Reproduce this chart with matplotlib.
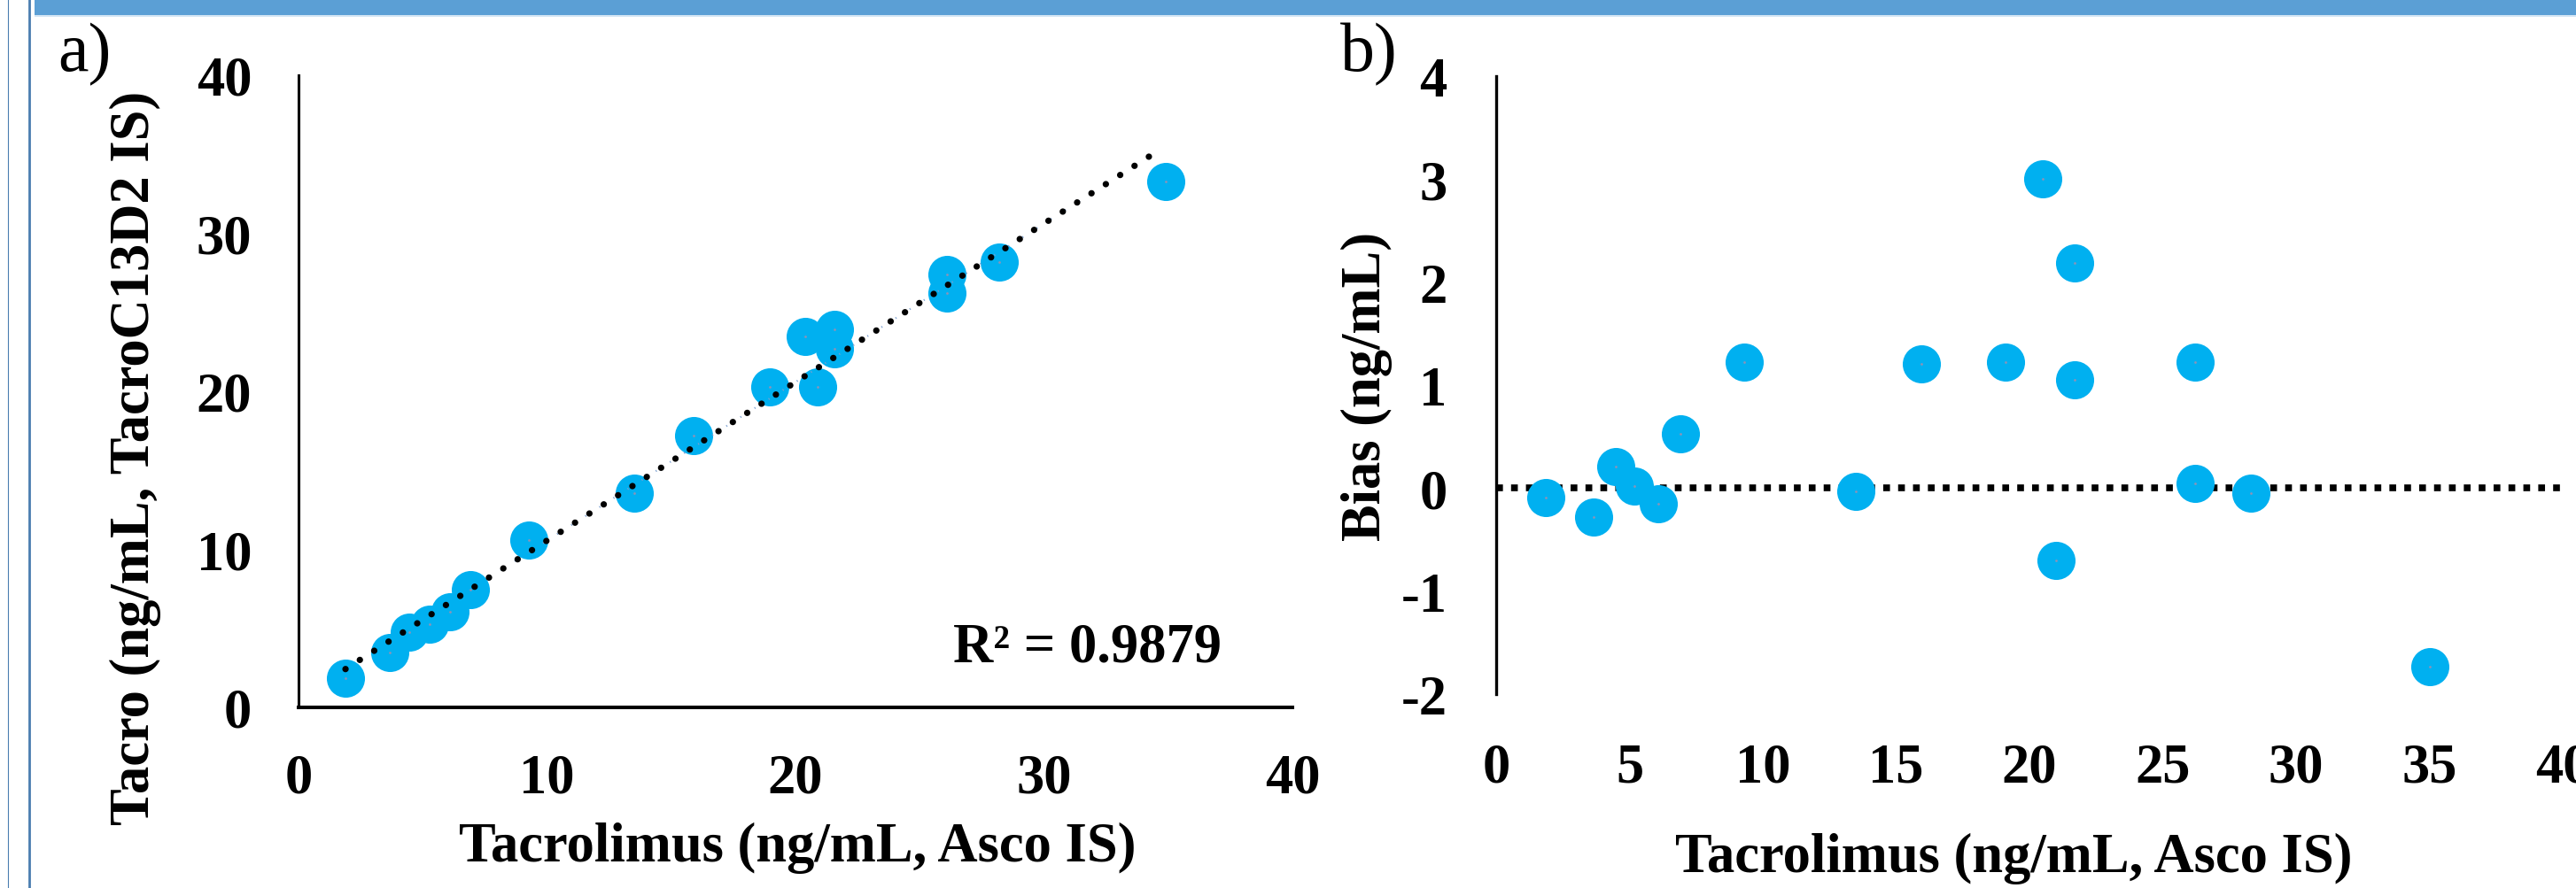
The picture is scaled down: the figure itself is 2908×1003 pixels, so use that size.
import matplotlib
matplotlib.use("Agg")
import matplotlib.pyplot as plt
from matplotlib.lines import Line2D
from matplotlib.patches import Rectangle
import numpy as np

W, H = 2908, 1004
DPI = 100

# Tacrolimus, Asco IS (x) vs TacroC13D2 IS (y), panel a
tacro_asco = [1.89, 3.67, 4.45, 5.27, 6.08, 6.90, 9.27, 13.5, 15.9, 18.97,
              20.4, 20.9, 21.57, 21.57, 26.1, 26.1, 28.2, 34.9]
tacro_c13d2 = [1.85, 3.47, 4.76, 5.27, 6.05, 7.45, 10.59, 13.56, 17.2, 20.28,
               23.5, 20.28, 23.9, 22.7, 27.4, 26.2, 28.2, 33.3]

# Bias plot, panel b
bias_x = [1.86, 3.65, 4.48, 5.18, 6.08, 6.90, 9.3, 13.5, 15.95, 19.1,
          20.5, 21.0, 21.7, 21.7, 26.2, 26.2, 28.3, 35.0]
bias = [-0.095, -0.28, 0.21, 0.02, -0.15, 0.53, 1.22, -0.03, 1.21, 1.22,
        3.0, -0.70, 2.19, 1.05, 1.22, 0.05, -0.05, -1.73]

a_xticks = [0, 10, 20, 30, 40]
a_yticks = [0, 10, 20, 30, 40]
b_xticks = [0, 5, 10, 15, 20, 25, 30, 35, 40]
b_yticks = [-2, -1, 0, 1, 2, 3, 4]

r2_text = "R\u00b2 = 0.9879"
xlabel = "Tacrolimus (ng/mL, Asco IS)"
ylabel_a = "Tacro (ng/mL, TacroC13D2 IS)"
ylabel_b = "Bias (ng/mL)"

MARKER = "#00B0F0"
FS = 45

plt.rcParams.update({
    "font.family": "Liberation Serif",
    "font.weight": "bold",
    "axes.unicode_minus": False,
})


def fx(x):
    return x / W


def fy(y):
    return 1 - y / H


def axes_box(left, top, right, bottom):
    return [fx(left), fy(bottom), (right - left) / W, (bottom - top) / H]


fig = plt.figure(figsize=(W / DPI, H / DPI), dpi=DPI)
fig.patch.set_facecolor("white")

# decorative frame: top banner and left rules
fig.patches.append(Rectangle((fx(39), fy(18)), 1 - fx(39), 18 / H,
                             transform=fig.transFigure, facecolor="#5B9FD5",
                             edgecolor="none"))
fig.patches.append(Rectangle((fx(39), fy(20)), 1 - fx(39), 2 / H,
                             transform=fig.transFigure, facecolor="#D3E5F4",
                             edgecolor="none"))
fig.lines.append(Line2D([fx(8.5), fx(8.5)], [0, 1], transform=fig.transFigure,
                        color="#4A7DB0", linewidth=0.8))
fig.lines.append(Line2D([fx(33), fx(33)], [0, 1], transform=fig.transFigure,
                        color="#4A7DB0", linewidth=2.0))

# ---------------- panel a ----------------
ax_a = fig.add_axes(axes_box(337, 86, 1459, 800))
ax_a.scatter(tacro_asco, tacro_c13d2, s=31 ** 2, color=MARKER,
             linewidths=0, zorder=3, clip_on=False)
ax_a.scatter(tacro_asco, tacro_c13d2, s=4, color="#8A93B8",
             linewidths=0, zorder=4, clip_on=False)

slope, intercept = np.polyfit(tacro_asco, tacro_c13d2, 1)
xfit = np.array([min(tacro_asco), max(tacro_asco) - 0.3])
yfit = slope * xfit + intercept
ax_a.plot(xfit, yfit, color="#7B9FD0", linewidth=1.6,
          linestyle=(0, (0.5, 8)), zorder=5, clip_on=False)
ax_a.plot(xfit, yfit, color="black", linewidth=5.2,
          linestyle=(0, (0.01, 2.65)), dash_capstyle="round",
          zorder=6, clip_on=False)

ax_a.set_xlim(0, 40)
ax_a.set_ylim(0, 40)
ax_a.set_xticks(a_xticks)
ax_a.set_yticks(a_yticks)
ax_a.tick_params(length=0, labelsize=FS)
ax_a.tick_params(axis="x", pad=37)
ax_a.tick_params(axis="y", pad=38)
for side in ("top", "right"):
    ax_a.spines[side].set_visible(False)
ax_a.spines["left"].set_linewidth(2.2)
ax_a.spines["bottom"].set_linewidth(2.9)

ax_a.text(fx(1379), fy(733), r2_text, transform=fig.transFigure,
          ha="right", va="center", fontsize=FS, fontweight="bold")

fig.text(fx(153), fy(517), ylabel_a, rotation=90, ha="center", va="center",
         fontsize=FS, fontweight="bold")
fig.text(fx(900), fy(958), xlabel, ha="center", va="center",
         fontsize=FS, fontweight="bold")
fig.text(fx(95), fy(62), "a)", ha="center", va="center",
         fontsize=56, fontweight="normal")

# ---------------- panel b ----------------
ax_b = fig.add_axes(axes_box(1689, 87, 2893, 785))
ax_b.axhline(0, color="black", linewidth=5.5, linestyle=(0, (1, 1.2)),
             zorder=2)
ax_b.scatter(bias_x, bias, s=31 ** 2, color=MARKER, linewidths=0,
             zorder=3, clip_on=False)
ax_b.scatter(bias_x, bias, s=4, color="#8A93B8", linewidths=0,
             zorder=4, clip_on=False)

ax_b.set_xlim(0, 40)
ax_b.set_ylim(-2, 4)
ax_b.set_xticks(b_xticks)
ax_b.set_yticks(b_yticks)
ax_b.tick_params(length=0, labelsize=FS)
ax_b.tick_params(axis="x", pad=39)
ax_b.tick_params(axis="y", pad=40)
for side in ("top", "right", "bottom"):
    ax_b.spines[side].set_visible(False)
ax_b.spines["left"].set_linewidth(2.4)

fig.text(fx(1543), fy(436), ylabel_b, rotation=90, ha="center", va="center",
         fontsize=FS, fontweight="bold")
fig.text(fx(2273), fy(970), xlabel, ha="center", va="center",
         fontsize=FS, fontweight="bold")
fig.text(fx(1545), fy(62), "b)", ha="center", va="center",
         fontsize=56, fontweight="normal")

fig.savefig("out.png", dpi=DPI, facecolor="white")
